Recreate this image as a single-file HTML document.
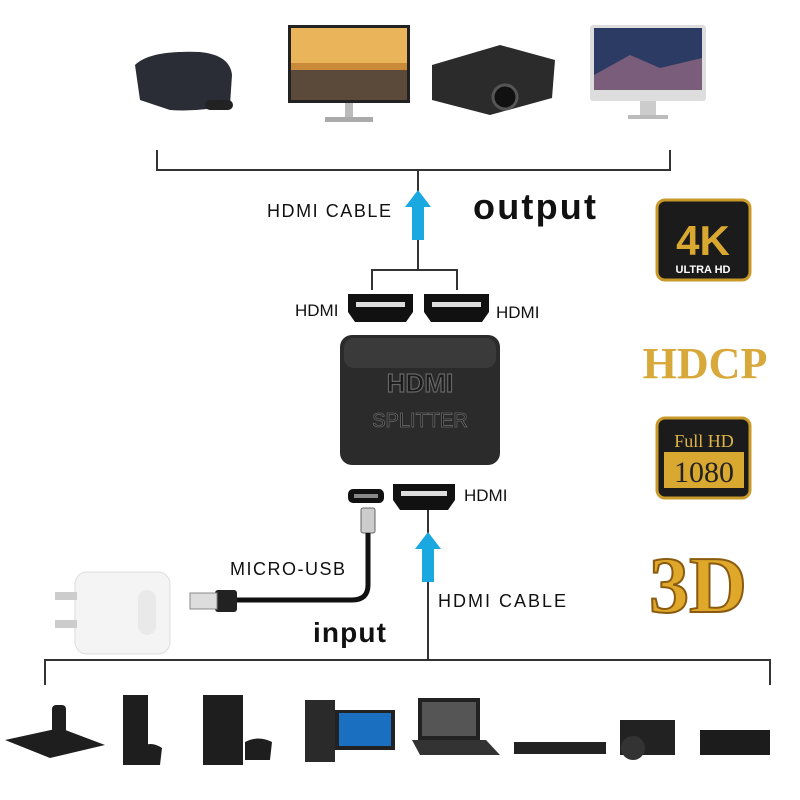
<!DOCTYPE html>
<html><head><style>
body{margin:0;width:800px;height:800px;background:#fff;position:relative;overflow:hidden;font-family:"Liberation Sans",sans-serif}
.a{position:absolute}
</style></head><body>
<svg class="a" style="left:0;top:0" width="800" height="800">
<g>
<path d="M135 65 Q150 50 200 52 Q230 55 232 75 L230 105 Q200 112 170 110 L140 100 Z" fill="#2a2d36"/>
<rect x="205" y="100" width="28" height="10" rx="5" fill="#222"/>
<rect x="288" y="25" width="122" height="78" fill="#222"/>
<rect x="291" y="28" width="116" height="72" fill="#c98a3a"/>
<rect x="291" y="28" width="116" height="35" fill="#e9b45a"/>
<rect x="291" y="70" width="116" height="30" fill="#5b4a3a"/>
<rect x="345" y="103" width="8" height="15" fill="#bbb"/><rect x="325" y="117" width="48" height="5" fill="#aaa"/>
<path d="M432 65 L500 45 L555 60 L552 98 L490 115 L432 100 Z" fill="#2b2b2b"/>
<circle cx="505" cy="97" r="12" fill="#111" stroke="#555" stroke-width="3"/>
<rect x="590" y="25" width="116" height="76" rx="3" fill="#ddd"/>
<rect x="594" y="28" width="108" height="62" fill="#2c3b63"/>
<path d="M594 75 L630 55 L660 68 L702 58 L702 90 L594 90Z" fill="#7a5d7a"/>
<rect x="640" y="101" width="16" height="15" fill="#ccc"/><rect x="628" y="115" width="40" height="4" fill="#bbb"/>
</g>
<g stroke="#333" stroke-width="2" fill="none">
<path d="M157 150 V170 H670 V150"/>
<path d="M418 170 V270"/>
<path d="M372 290 V270 H457 V290"/>
<path d="M428 510 V660"/>
<path d="M45 685 V660 H770 V685"/>
</g>
<path d="M418 190 L405 207 H412 V240 H424 V207 H431 Z" fill="#19a8e0"/>
<path d="M428 532 L415 549 H422 V582 H434 V549 H441 Z" fill="#19a8e0"/>
<g fill="#111"><path d="M348 294 H413 V312 L406 322 H355 L348 312Z"/><path d="M424 294 H489 V312 L482 322 H431 L424 312Z"/>
<path d="M393 484 H455 V500 L448 510 H400 L393 500Z"/></g>
<g fill="#ddd"><rect x="356" y="302" width="49" height="5"/><rect x="432" y="302" width="49" height="5"/><rect x="401" y="491" width="46" height="5"/></g>
<rect x="348" y="489" width="36" height="14" rx="5" fill="#111"/><rect x="354" y="494" width="24" height="4" fill="#888"/>
<rect x="340" y="335" width="160" height="130" rx="12" fill="#2b2b2b"/>
<rect x="344" y="338" width="152" height="30" rx="10" fill="#3a3a3a"/>
<text x="420" y="392" text-anchor="middle" font-size="26" font-weight="bold" fill="#1a1a1a" stroke="#666" stroke-width="1.2" font-family="Liberation Sans">HDMI</text>
<text x="420" y="427" text-anchor="middle" font-size="20" fill="#1a1a1a" stroke="#666" stroke-width=".8">SPLITTER</text>
<rect x="361" y="508" width="14" height="25" rx="2" fill="#ccc" stroke="#666"/>
<path d="M368 533 V585 Q368 600 352 600 H235" stroke="#111" stroke-width="5" fill="none"/>
<rect x="215" y="590" width="22" height="22" rx="3" fill="#222"/>
<rect x="190" y="593" width="27" height="16" fill="#ddd" stroke="#888"/>
<rect x="75" y="572" width="95" height="82" rx="12" fill="#f4f4f4" stroke="#ddd"/>
<rect x="55" y="592" width="22" height="8" fill="#ccc"/><rect x="55" y="620" width="22" height="8" fill="#ccc"/>
<rect x="138" y="590" width="18" height="45" rx="9" fill="#e9e9e9"/>
<rect x="657" y="200" width="93" height="80" rx="8" fill="#1b1b1b" stroke="#c89a2a" stroke-width="3"/>
<text x="703" y="255" text-anchor="middle" font-size="42" font-weight="bold" fill="#d9a830">4K</text>
<text x="703" y="273" text-anchor="middle" font-size="11" font-weight="bold" fill="#fff">ULTRA HD</text>
<text x="705" y="378" text-anchor="middle" font-size="44" font-weight="bold" fill="#d8a83a" font-family="Liberation Serif">HDCP</text>
<rect x="657" y="418" width="93" height="80" rx="8" fill="#1b1b1b" stroke="#c89a2a" stroke-width="3"/>
<text x="704" y="447" text-anchor="middle" font-size="18" fill="#e0b548" font-family="Liberation Serif">Full HD</text>
<rect x="664" y="452" width="80" height="36" fill="#d9a830"/>
<text x="704" y="482" text-anchor="middle" font-size="30" fill="#222" font-family="Liberation Serif">1080</text>
<text x="698" y="612" text-anchor="middle" font-size="80" font-weight="bold" fill="#e0a82a" stroke="#8a5a10" stroke-width="2" font-family="Liberation Serif">3D</text>
<g fill="#1e1e1e">
<path d="M5 740 L60 728 L105 745 L50 758Z"/><rect x="52" y="705" width="14" height="30" rx="4"/>
<rect x="123" y="695" width="25" height="70"/><path d="M140 748 Q150 740 162 748 L160 765 L140 765Z"/>
<rect x="203" y="695" width="40" height="70"/><path d="M245 742 Q258 735 272 742 L270 760 L245 760Z"/>
<rect x="305" y="700" width="30" height="62" fill="#2a2a2a"/><rect x="335" y="710" width="60" height="40" fill="#222"/><rect x="339" y="713" width="52" height="33" fill="#1a6fc0"/>
<rect x="418" y="698" width="62" height="42" fill="#222"/><rect x="422" y="702" width="54" height="34" fill="#555"/><path d="M412 740 H486 L500 755 H420Z" fill="#333"/>
<rect x="514" y="742" width="92" height="12" fill="#222"/>
<rect x="620" y="720" width="55" height="35" fill="#222"/><circle cx="633" cy="748" r="12" fill="#333"/>
<path d="M700 730 H770 V755 H700Z" fill="#1c1c1c"/>
</g>
<g font-family="Liberation Sans" fill="#111">
<text x="267" y="217" font-size="18" textLength="124">HDMI CABLE</text>
<text x="473" y="219" font-size="36" font-weight="bold" textLength="123">output</text>
<text x="295" y="316" font-size="17">HDMI</text>
<text x="496" y="318" font-size="17">HDMI</text>
<text x="464" y="501" font-size="17">HDMI</text>
<text x="230" y="575" font-size="18" textLength="115">MICRO-USB</text>
<text x="438" y="607" font-size="18" textLength="128">HDMI CABLE</text>
<text x="313" y="642" font-size="28" font-weight="bold" textLength="73">input</text>
</g>
</svg>
</body></html>
